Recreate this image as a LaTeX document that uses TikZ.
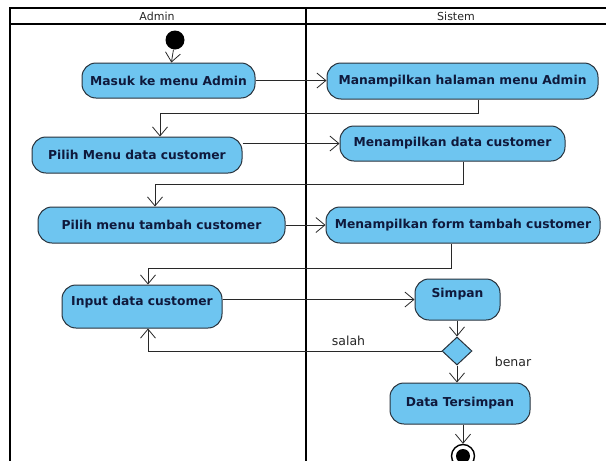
\documentclass[tikz,border=0pt]{standalone}
\usepackage{fontspec}
\setmainfont{DejaVu Sans}
\usetikzlibrary{arrows.meta,shapes.geometric}
\definecolor{actfill}{RGB}{110,197,240}
\definecolor{actdraw}{RGB}{40,50,60}
\definecolor{acttext}{RGB}{15,25,60}
\definecolor{linec}{RGB}{40,40,40}
\begin{document}
\begin{tikzpicture}[x=1pt,y=-1pt,
  act/.style={draw=actdraw, fill=actfill, rounded corners=14pt, line width=1pt,
    font=\fontsize{12.3}{14}\bfseries\selectfont, text=acttext, inner sep=0pt},
  flow/.style={draw=linec, line width=0.8pt,
    -{Straight Barb[length=9pt,width=15pt,line width=0.8pt]}},
  lane/.style={draw=black, line width=1.6pt},
  lbl/.style={font=\fontsize{12.5}{14}\selectfont, text=black!85},
  hdr/.style={font=\fontsize{11}{12}\selectfont, text=black!85},
]
\useasboundingbox (0,0) rectangle (606,461);
\fill[white] (0,0) rectangle (606,461);
% swimlanes
\draw[lane] (10,461) -- (10,8) -- (606,8);
\draw[lane] (10,24) -- (606,24);
\draw[draw=black, line width=2.6pt] (306,8) -- (306,461);
\node[hdr] (hA) at (157,16) {Admin};
\node[hdr] (hS) at (456,16) {Sistem};
% nodes
\node[circle, fill=black, minimum size=19pt, inner sep=0pt] (start) at (175,40) {};
\node[act, minimum width=173pt, minimum height=35pt] (b1) at (168.5,80.5) {Masuk ke menu Admin};
\node[act, minimum width=271pt, minimum height=36pt] (b2) at (462.5,81) {Manampilkan halaman menu Admin};
\node[act, minimum width=210pt, minimum height=36pt] (b3) at (137,155) {Pilih Menu data customer};
\node[act, minimum width=225pt, minimum height=35pt] (b4) at (452.5,143.5) {Menampilkan data customer};
\node[act, minimum width=247pt, minimum height=36pt] (b5) at (161.5,225) {Pilih menu tambah customer};
\node[act, minimum width=274pt, minimum height=36pt] (b6) at (463,225) {Menampilkan form tambah customer};
\node[act, minimum width=160pt, minimum height=43pt, text depth=12pt] (b7) at (142,306.5) {Input data customer};
\node[act, minimum width=85pt, minimum height=41pt, text depth=13pt] (b8) at (457.5,299.5) {Simpan};
\node[diamond, draw=actdraw, fill=actfill, line width=1pt, minimum width=30pt, minimum height=28pt, inner sep=0pt] (dec) at (457,351) {};
\node[act, minimum width=140pt, minimum height=41pt] (b9) at (460,403.5) {Data Tersimpan};
\node[circle, draw=black, line width=1.4pt, fill=white, minimum size=23pt, inner sep=0pt] (end) at (463,456) {};
\fill[black] (end.center) circle (7pt);
% bends
\coordinate (k1) at (478,113);
\coordinate (k2) at (160,113);
\coordinate (k3) at (463,184);
\coordinate (k4) at (155,184);
\coordinate (k5) at (451,268);
\coordinate (k6) at (148,268);
% flows
\draw[flow] (start) -- (b1);
\draw[flow] (b1.east) -- (b2.west |- b1.east);
\draw[flow] (b2.south -| k1) -- (k1) -- (k2) -- (b3.north -| k2);
\draw[flow] (b3.east |- b4.west) -- (b4.west);
\draw[flow] (b4.south -| k3) -- (k3) -- (k4) -- (b5.north -| k4);
\draw[flow] (b5.east) -- (b6.west);
\draw[flow] (b6.south -| k5) -- (k5) -- (k6) -- (b7.north -| k6);
\draw[flow] (b7.east |- b8.west) -- (b8.west);
\draw[flow] (b8.south -| dec.north) -- (dec.north);
\draw[flow] (dec.west) -- (dec.west -| k6) -- (b7.south -| k6);
\draw[flow] (dec.south) -- (b9.north -| dec.south);
\draw[flow] (b9.south -| end.north) -- (end.north);
\node[lbl] (ls) at (348.5,341) {salah};
\node[lbl] (lb) at (513,362) {benar};
\end{tikzpicture}
\end{document}
